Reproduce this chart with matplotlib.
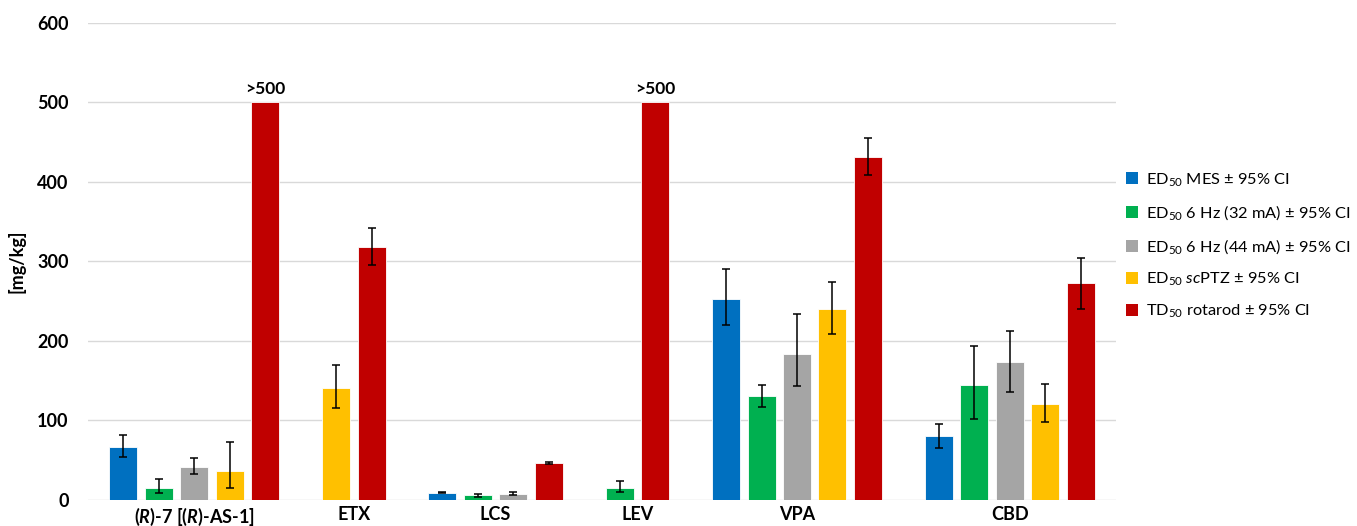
import numpy as np
import matplotlib
matplotlib.use("Agg")
import matplotlib.pyplot as plt
from matplotlib.patches import Patch

plt.rcParams["font.family"] = ["Lato", "DejaVu Sans"]
plt.rcParams["mathtext.fontset"] = "custom"
plt.rcParams["mathtext.rm"] = "Lato"
plt.rcParams["mathtext.it"] = "Lato:italic"
plt.rcParams["mathtext.bf"] = "Lato:bold"
plt.rcParams["mathtext.bfit"] = "Lato:italic:bold"

nan = np.nan

groups = [r"($\mathbfit{R}$)-7 [($\mathbfit{R}$)-AS-1]", "ETX", "LCS", "LEV", "VPA", "CBD"]

series_names = [
    r"ED$_{50}$ MES ± 95% CI",
    r"ED$_{50}$ 6 Hz (32 mA) ± 95% CI",
    r"ED$_{50}$ 6 Hz (44 mA) ± 95% CI",
    r"ED$_{50}$ $\mathit{sc}$PTZ ± 95% CI",
    r"TD$_{50}$ rotarod ± 95% CI",
]
colors = ["#0070C0", "#00B050", "#A5A5A5", "#FFC000", "#C00000"]

# values per group (mg/kg); nan = not tested
mes      = [66.3, nan, 9.2, nan, 252.7, 80.8]
mes_lo   = [53.5, nan, 8.5, nan, 219.8, 65.0]
mes_hi   = [82.0, nan, 10.0, nan, 290.2, 95.9]

hz32     = [15.6, nan, 5.8, 15.7, 130.8, 144.5]
hz32_lo  = [9.2, nan, 4.2, 10.4, 117.2, 101.8]
hz32_hi  = [26.4, nan, 7.8, 23.7, 145.0, 194.0]

hz44     = [41.6, nan, 7.5, nan, 183.8, 173.4]
hz44_lo  = [32.8, nan, 5.8, nan, 143.3, 135.7]
hz44_hi  = [52.8, nan, 9.6, nan, 233.7, 212.7]

scptz    = [36.8, 140.7, nan, nan, 239.5, 120.6]
scptz_lo = [15.1, 115.6, nan, nan, 208.9, 98.0]
scptz_hi = [73.3, 169.6, nan, nan, 273.5, 145.7]

td50     = [500, 318.0, 46.5, 500, 430.8, 272.2]
td50_lo  = [nan, 295.2, 45.0, nan, 408.0, 240.3]
td50_hi  = [nan, 341.7, 48.0, nan, 454.8, 304.0]
td50_text = [">500", "", "", ">500", "", ""]

yticks = [0, 100, 200, 300, 400, 500, 600]

values = [mes, hz32, hz44, scptz, td50]
lows = [mes_lo, hz32_lo, hz44_lo, scptz_lo, td50_lo]
highs = [mes_hi, hz32_hi, hz44_hi, scptz_hi, td50_hi]

fig = plt.figure(figsize=(13.57, 5.26), dpi=100)
ax = fig.add_axes([88 / 1357, 26 / 526, (1116 - 88) / 1357, (500 - 22.7) / 526])

# bars of a group sit side by side, one empty slot separates groups
slot = 0
group_centers = []
for g in range(len(groups)):
    xs_in_group = []
    for s in range(len(values)):
        v = values[s][g]
        if np.isnan(v):
            continue
        ax.bar(slot, v, width=0.79, color=colors[s], edgecolor="white",
               linewidth=0.6, zorder=2)
        lo, hi = lows[s][g], highs[s][g]
        if not np.isnan(lo):
            ax.errorbar(slot, v, yerr=[[v - lo], [hi - v]], fmt="none",
                        ecolor="black", elinewidth=1.1, capsize=2.6,
                        capthick=1.1, zorder=3)
        if s == 4 and td50_text[g]:
            ax.text(slot, v + 6, td50_text[g], ha="center", va="bottom",
                    fontsize=12.5, fontweight="bold")
        xs_in_group.append(slot)
        slot += 1
    group_centers.append(np.mean(xs_in_group))
    slot += 1

ax.set_xlim(-1, slot - 1)
ax.set_ylim(0, 600)
ax.set_yticks(yticks)
ax.set_xticks(group_centers)
ax.set_xticklabels(groups, fontsize=13, fontweight="bold")
for lab in ax.get_yticklabels():
    lab.set_fontweight("bold")
    lab.set_fontsize(13)
ax.tick_params(axis="both", length=0)
ax.tick_params(axis="y", pad=14)
ax.tick_params(axis="x", pad=4)
ax.grid(axis="y", color="#D9D9D9", linewidth=1.0, zorder=0)
ax.set_axisbelow(True)
for sp in ax.spines.values():
    sp.set_visible(False)
ax.set_ylabel("[mg/kg]", fontsize=13, fontweight="bold", labelpad=8)

handles = [Patch(facecolor=c, edgecolor="none") for c in colors]
fig.legend(handles, series_names, loc="upper left",
           bbox_to_anchor=(1118 / 1357, 1 - 163 / 526), frameon=False,
           fontsize=11.8, handlelength=0.75, handleheight=0.75,
           handletextpad=0.45, labelspacing=0.9, borderpad=0)

fig.savefig("out.png", dpi=100)
